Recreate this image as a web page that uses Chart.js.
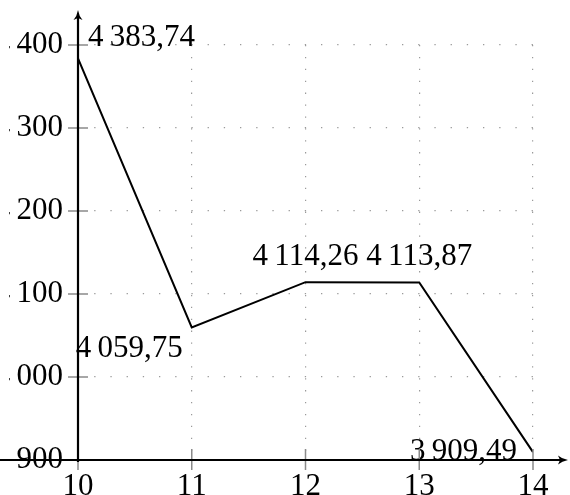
<!DOCTYPE html>
<html>
<head>
<meta charset="utf-8">
<script src="https://cdn.jsdelivr.net/npm/chart.js@4"></script>
<style>
  html, body { margin: 0; padding: 0; background: #fff; overflow: hidden; }
  #wrap { position: relative; width: 570px; height: 495px; }
</style>
</head>
<body>
<div id="wrap"><canvas id="chart"></canvas></div>
<script>
// values
const xValues = [10, 11, 12, 13, 14];
const yValues = [4383.74, 4059.75, 4114.26, 4113.87, 3909.49];
const xTicks = [10, 11, 12, 13, 14];
const yTicks = [3900, 4000, 4100, 4200, 4300, 4400];

const FONT = 'Liberation Serif';
const FSIZE = 31;

// 4383.74 -> "4 383,74" (thin space, decimal comma)
function fmt(v, decimals) {
    let s = v.toFixed(decimals).split('.');
    let int = s[0].replace(/\B(?=(\d{3})+(?!\d))/g, '\u2009');
    return s[1] ? int + ',' + s[1] : int;
}

// where each value label sits relative to its point
const labelPlacement = [
    { dx: 10, dy: -12, align: 'left' },
    { dx: -9, dy: 30, align: 'right' },
    { dx: 0, dy: -17, align: 'center' },
    { dx: 0, dy: -17, align: 'center' },
    { dx: -16, dy: 8, align: 'right' }
];

const clipLeft = 9;

const clipPlugin = {
    id: 'clipLeft',
    beforeDraw(chart) {
        const ctx = chart.ctx;
        ctx.save();
        ctx.beginPath();
        ctx.rect(clipLeft, 0, chart.width - clipLeft, chart.height);
        ctx.clip();
    },
    afterDraw(chart) {
        chart.ctx.restore();
    }
};

const valueLabels = {
    id: 'valueLabels',
    afterDatasetsDraw(chart) {
        const ctx = chart.ctx;
        const meta = chart.getDatasetMeta(0);
        ctx.save();
        ctx.font = FSIZE + 'px "' + FONT + '"';
        ctx.fillStyle = '#000';
        ctx.textBaseline = 'alphabetic';
        meta.data.forEach((pt, i) => {
            const p = labelPlacement[i];
            ctx.textAlign = p.align;
            ctx.fillText(fmt(yValues[i], 2), pt.x + p.dx, pt.y + p.dy);
        });
        ctx.restore();
    }
};

function arrowHead(ctx, x, y, dir) {
    // dir: 'up' or 'right'
    ctx.save();
    ctx.translate(x, y);
    if (dir === 'right') ctx.rotate(Math.PI / 2);
    ctx.beginPath();
    ctx.moveTo(0, 0);
    ctx.quadraticCurveTo(1, 6, 4.5, 10);
    ctx.lineTo(0, 8);
    ctx.lineTo(-4.5, 10);
    ctx.quadraticCurveTo(-1, 6, 0, 0);
    ctx.closePath();
    ctx.fill();
    ctx.restore();
}

const axesPlugin = {
    id: 'axesArrows',
    afterDraw(chart) {
        const ctx = chart.ctx;
        const xs = chart.scales.x, ys = chart.scales.y;
        const x0 = xs.getPixelForValue(10);
        const y0 = ys.getPixelForValue(3900);
        ctx.save();
        // tick marks crossing the axes
        ctx.strokeStyle = '#8a8a8a';
        ctx.lineWidth = 1.5;
        xTicks.forEach(t => {
            const px = xs.getPixelForValue(t);
            ctx.beginPath();
            ctx.moveTo(px, y0 - 11);
            ctx.lineTo(px, y0 + 10);
            ctx.stroke();
        });
        yTicks.forEach(t => {
            const py = ys.getPixelForValue(t);
            ctx.beginPath();
            ctx.moveTo(x0 - 10, py);
            ctx.lineTo(x0 + 10, py);
            ctx.stroke();
        });
        // axis lines
        ctx.strokeStyle = '#000';
        ctx.fillStyle = '#000';
        ctx.lineWidth = 2.2;
        ctx.beginPath();
        ctx.moveTo(x0, y0 + 2);
        ctx.lineTo(x0, 16);
        ctx.stroke();
        arrowHead(ctx, x0, 10, 'up');
        ctx.beginPath();
        ctx.moveTo(0, y0);
        ctx.lineTo(chart.width - 8, y0);
        ctx.stroke();
        arrowHead(ctx, chart.width - 2, y0, 'right');
        ctx.restore();
    }
};

const ctx = document.getElementById('chart').getContext('2d');
const chart = new Chart(ctx, {
    type: 'line',
    data: {
        datasets: [{
            data: xValues.map((x, i) => ({ x: x, y: yValues[i] })),
            borderColor: '#000',
            borderWidth: 2,
            pointRadius: 0,
            tension: 0,
            fill: false
        }]
    },
    options: {
        responsive: true,
        maintainAspectRatio: false,
        animation: false,
        layout: { padding: { top: 45, right: 37, left: 0, bottom: 0 } },
        plugins: { legend: { display: false }, tooltip: { enabled: false } },
        scales: {
            x: {
                type: 'linear',
                min: 10,
                max: 14,
                afterBuildTicks: s => { s.ticks = xTicks.map(v => ({ value: v })); },
                afterFit: s => { s.height = 35; },
                ticks: {
                    font: { family: FONT, size: FSIZE },
                    color: '#000',
                    padding: 8,
                    callback: v => String(v)
                },
                grid: { color: '#9a9a9a', lineWidth: 1.2, drawTicks: false },
                border: { display: false, dash: [1.3, 10.6] }
            },
            y: {
                type: 'linear',
                min: 3900,
                max: 4400,
                afterBuildTicks: s => { s.ticks = yTicks.map(v => ({ value: v })); },
                afterFit: s => { s.width = 78; },
                ticks: {
                    font: { family: FONT, size: FSIZE },
                    color: '#000',
                    padding: 15,
                    callback: v => fmt(v, 0)
                },
                grid: { color: '#9a9a9a', lineWidth: 1.2, drawTicks: false },
                border: { display: false, dash: [1.3, 14.9] }
            }
        }
    },
    plugins: [clipPlugin, valueLabels, axesPlugin]
});
</script>
</body>
</html>
